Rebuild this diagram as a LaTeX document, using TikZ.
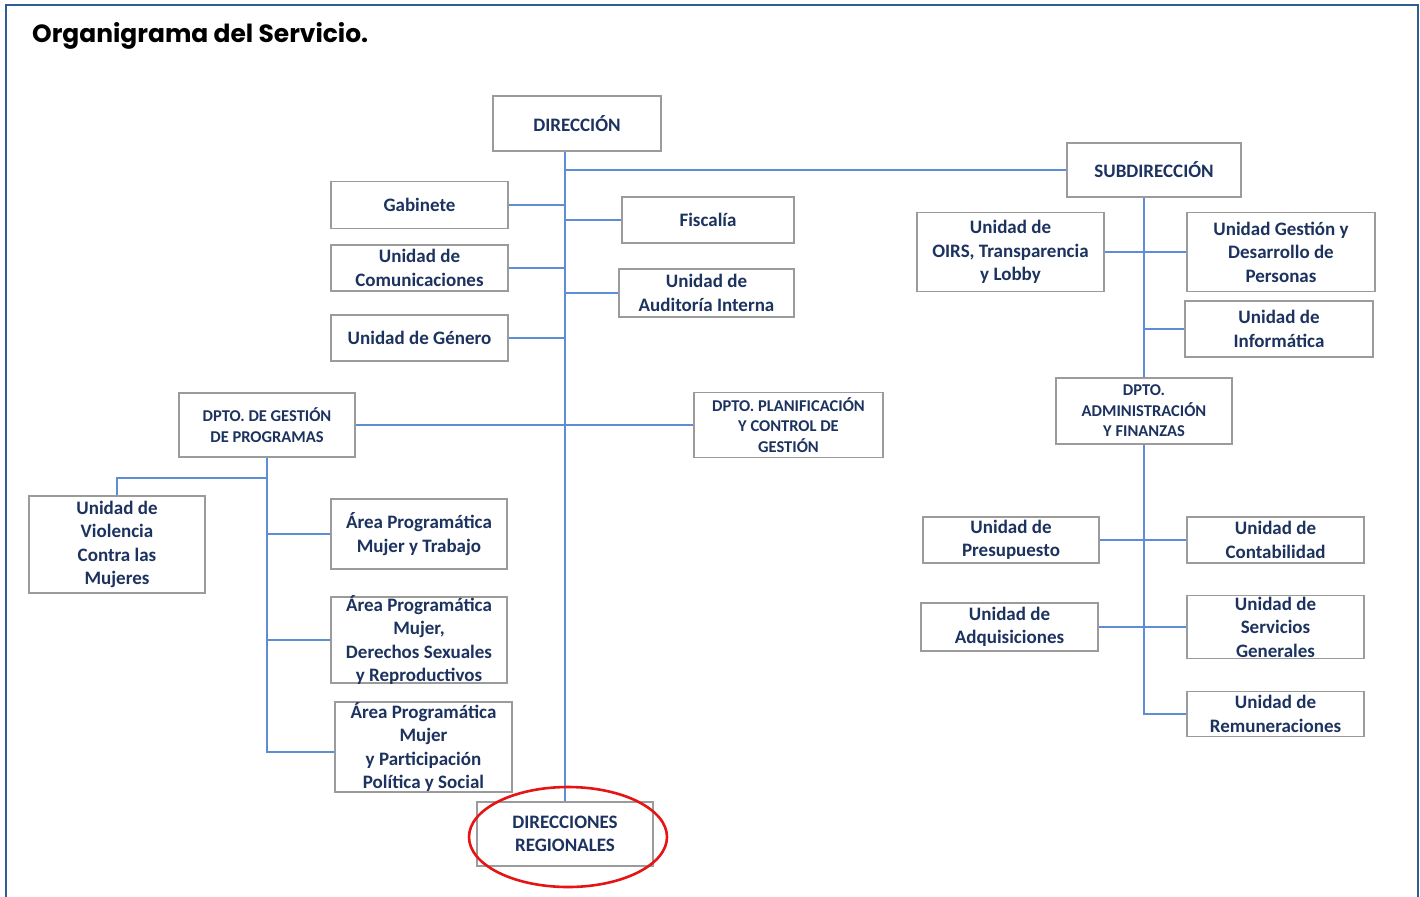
\documentclass[tikz,border=0pt]{standalone}
\usepackage{fontspec}
\usetikzlibrary{shapes.geometric,backgrounds}
\setmainfont{Carlito}
\newfontfamily\titlefont{Poppins}
\newfontfamily\boxfont{Carlito}
\definecolor{frameblue}{RGB}{47,94,149}
\definecolor{linkblue}{RGB}{95,140,215}
\definecolor{navy}{RGB}{28,50,95}
\definecolor{boxgray}{RGB}{155,155,155}
\definecolor{ovalred}{RGB}{230,20,20}
\newcommand\bigtxt{\boxfont\bfseries\fontsize{19}{23.5}\selectfont}
\newcommand\smtxt{\boxfont\bfseries\fontsize{16.5}{20.5}\selectfont}
\newcommand\orgbox[7]{%
  \node[obox] (#1) at (#2,#3) {\parbox[c][#5pt][c]{#4pt}{\centering #6 #7\par}};}
\tikzset{
  obox/.style={draw=boxgray, line width=1.9pt, fill=white, inner sep=0pt, text=navy},
  link/.style={draw=linkblue, line width=2.4pt},
}
\begin{document}
\begin{tikzpicture}[x=1pt,y=-1pt]
\useasboundingbox (0,0) rectangle (1420,896);
\begin{scope}[on background layer]
\fill[white] (0,0) rectangle (1420,896);
\end{scope}
% frame
\draw[frameblue, line width=2.6pt] (6,900) -- (6,5) -- (1418,5) -- (1418,900);
% title
\node[anchor=base west, inner sep=0pt] (title) at (32,43)
  {\resizebox{336pt}{!}{\titlefont\bfseries\fontsize{20}{24}\selectfont Organigrama del Servicio.}};

% boxes
\orgbox{DIR}{577}{123.5}{168}{55}{\bigtxt}{DIRECCIÓN}
\orgbox{SUB}{1154}{170}{174}{54}{\bigtxt}{SUBDIRECCIÓN}
\orgbox{GAB}{419.5}{205}{177}{47}{\bigtxt}{Gabinete}
\orgbox{FIS}{708}{220}{172}{46}{\bigtxt}{Fiscalía}
\orgbox{COM}{419.5}{268}{177}{46}{\bigtxt}{Unidad de\\Comunicaciones}
\orgbox{AUD}{706.5}{293}{175}{48}{\bigtxt}{Unidad de\\Auditoría Interna}
\orgbox{GEN}{419.5}{338}{177}{46}{\bigtxt}{Unidad de Género}
\orgbox{DPG}{267}{425}{176}{64}{\smtxt}{DPTO. DE GESTIÓN\\DE PROGRAMAS}
\orgbox{PLA}{788.5}{425}{189}{65}{\smtxt}{DPTO. PLANIFICACIÓN\\Y CONTROL DE\\GESTIÓN}
\orgbox{VIO}{117}{544.5}{176}{97}{\bigtxt}{Unidad de\\Violencia\\Contra las\\Mujeres}
\orgbox{APT}{419}{534}{176}{70}{\bigtxt}{Área Programática\\Mujer y Trabajo}
\orgbox{APD}{419}{640}{176}{86}{\bigtxt}{Área Programática\\Mujer,\\Derechos Sexuales\\y Reproductivos}
\orgbox{APP}{423.5}{747}{177}{90}{\bigtxt}{Área Programática\\Mujer\\y Participación\\Política y Social}
\orgbox{REG}{565}{834}{176}{64}{\bigtxt}{DIRECCIONES\\REGIONALES}
\orgbox{OIR}{1010.5}{252}{187}{79}{\bigtxt}{Unidad de\\OIRS, Transparencia\\y Lobby}
\orgbox{GDP}{1281}{252}{188}{79}{\bigtxt}{Unidad Gestión y\\Desarrollo de\\Personas}
\orgbox{INF}{1279}{329}{188}{56}{\bigtxt}{Unidad de\\Informática}
\orgbox{ADM}{1144}{411}{176}{66}{\smtxt}{DPTO.\\ADMINISTRACIÓN\\Y FINANZAS}
\orgbox{PRE}{1011}{540}{176}{46}{\bigtxt}{Unidad de\\Presupuesto}
\orgbox{CON}{1275.5}{540}{177}{46}{\bigtxt}{Unidad de\\Contabilidad}
\orgbox{ADQ}{1009.5}{627}{177}{48}{\bigtxt}{Unidad de\\Adquisiciones}
\orgbox{SER}{1275.5}{627}{177}{63}{\bigtxt}{Unidad de\\Servicios\\Generales}
\orgbox{REM}{1275.5}{714}{177}{45}{\bigtxt}{Unidad de\\Remuneraciones}

% connectors (behind nodes)
\begin{scope}[on background layer]
\draw[link] (DIR.south -| REG.north) -- (REG.north);
\draw[link] (REG.north |- SUB.west) -- (SUB.west);
\draw[link] (GAB.east) -- (GAB.east -| REG.north);
\draw[link] (FIS.west) -- (FIS.west -| REG.north);
\draw[link] (COM.east) -- (COM.east -| REG.north);
\draw[link] (AUD.west) -- (AUD.west -| REG.north);
\draw[link] (GEN.east) -- (GEN.east -| REG.north);
\draw[link] (DPG.east) -- (PLA.west);
\coordinate (dpgk) at (267,478);
\draw[link] (DPG.south) |- ([yshift=-5pt]APP.west);
\draw[link] (VIO.north) |- (dpgk);
\draw[link] (APT.west) -- (APT.west -| DPG.south);
\draw[link] (APD.west) -- (APD.west -| DPG.south);
\draw[link] (SUB.south -| ADM.north) -- (ADM.north);
\draw[link] (OIR.east) -- (GDP.west);
\draw[link] (INF.west) -- (INF.west -| ADM.north);
\draw[link] (ADM.south) |- (REM.west);
\draw[link] (PRE.east) -- (CON.west);
\draw[link] (ADQ.east) -- (SER.west);
\end{scope}

% red oval
\node[draw=ovalred, line width=2.6pt, ellipse, minimum width=198pt, minimum height=100pt, inner sep=0pt] (oval) at (568,837) {};
\end{tikzpicture}
\end{document}
